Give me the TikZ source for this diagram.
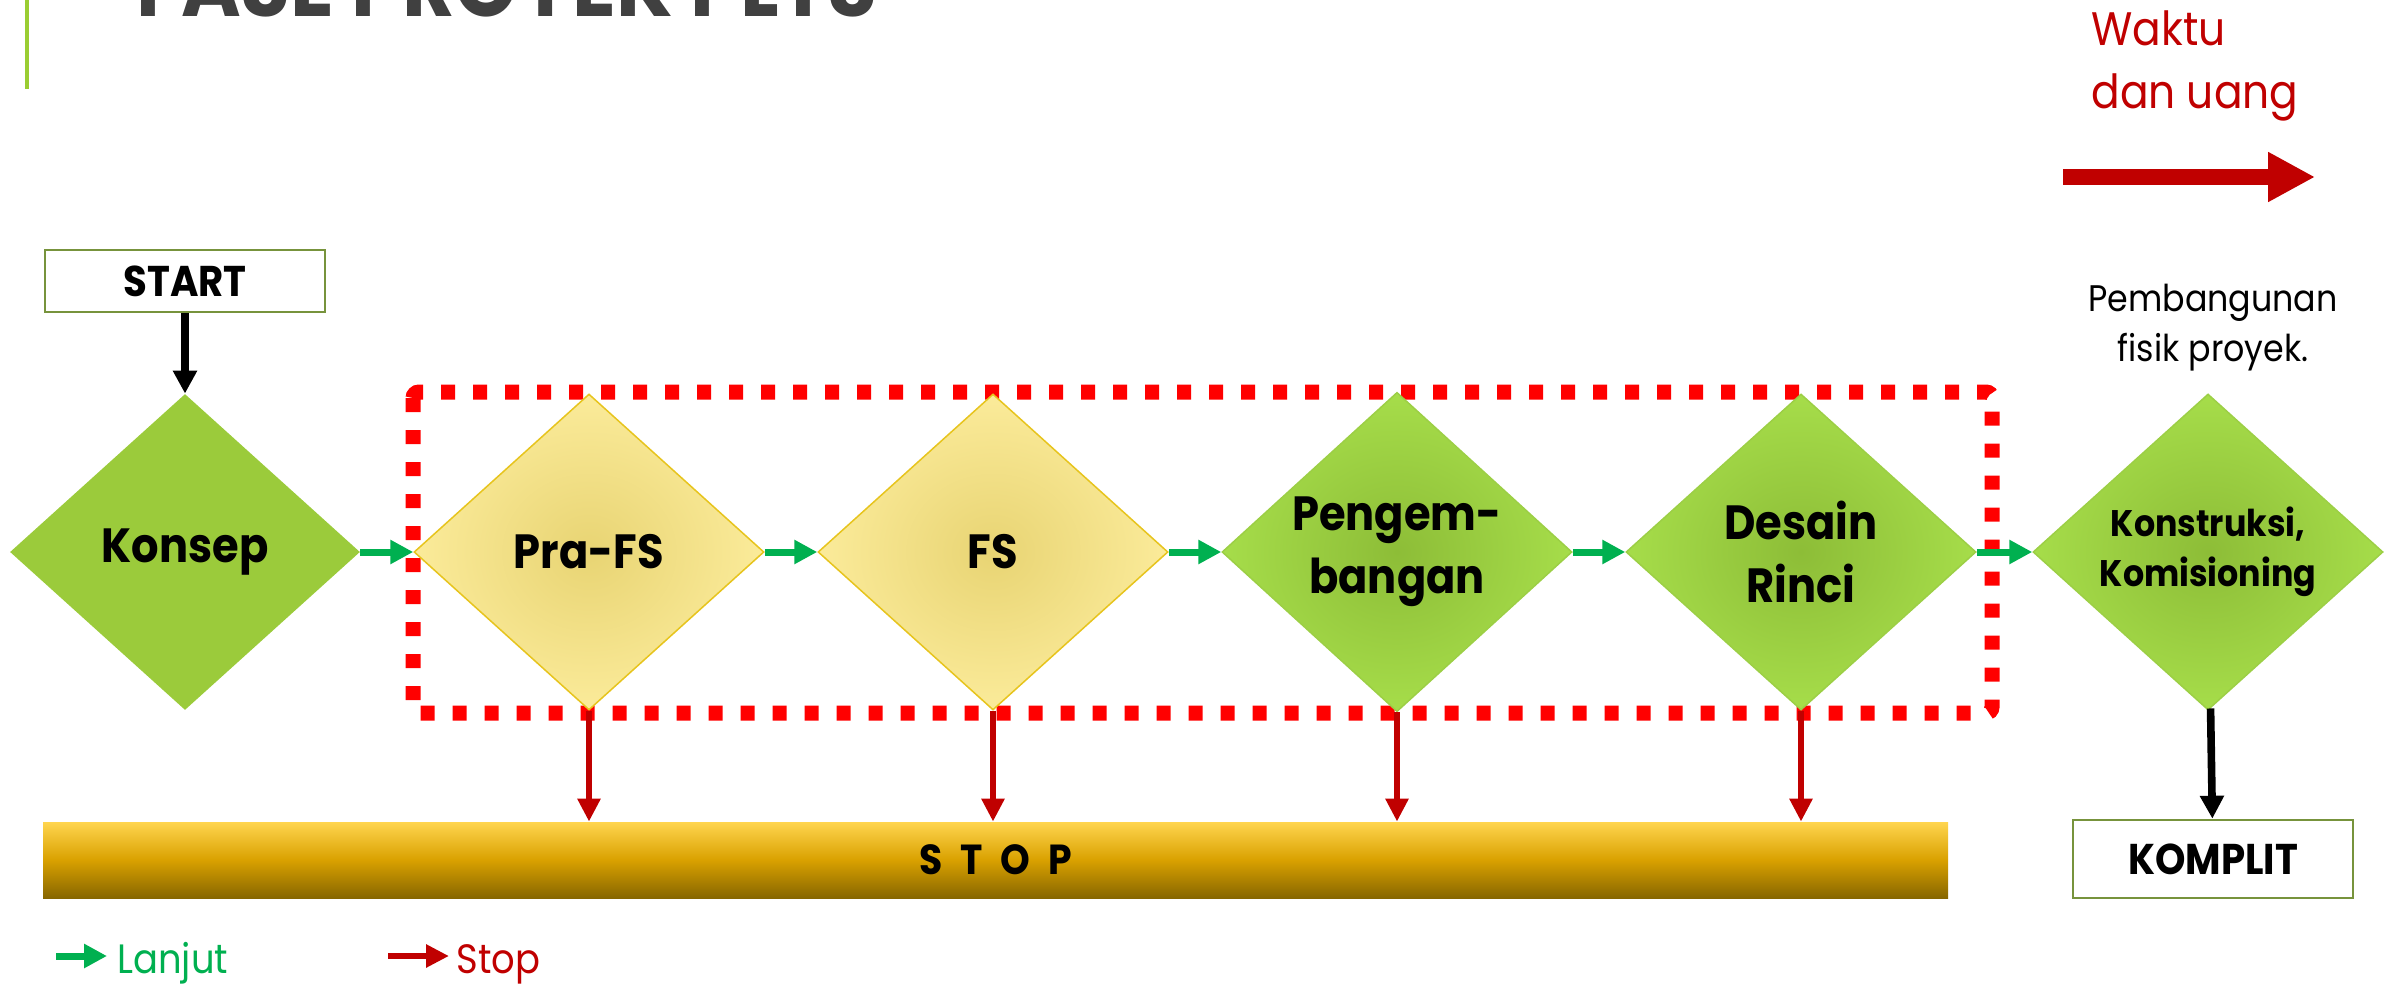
\documentclass[tikz,border=0pt]{standalone}
\usepackage{fontspec}
\setmainfont{Poppins}[FakeStretch=0.9]
\usetikzlibrary{shapes.geometric,arrows.meta}

\definecolor{titlegray}{HTML}{404040}
\definecolor{accentgreen}{HTML}{9ACD32}
\definecolor{konsepfill}{HTML}{9BCB3B}
\definecolor{leafin}{HTML}{8DBD37}
\definecolor{leafout}{HTML}{A6DD4A}
\definecolor{leafline}{HTML}{9CCF45}
\definecolor{sandin}{HTML}{E8D473}
\definecolor{sandout}{HTML}{FBEB9A}
\definecolor{sandline}{HTML}{E7C41D}
\definecolor{gogreen}{HTML}{00B050}
\definecolor{stopred}{HTML}{C00000}
\definecolor{dashred}{HTML}{FF0000}
\definecolor{boxolive}{HTML}{77933C}
\definecolor{bartop}{HTML}{FFD54F}
\definecolor{barmid}{HTML}{D9A100}
\definecolor{barbottom}{HTML}{876600}

\begin{document}
\begin{tikzpicture}[x=0.5pt,y=0.5pt,yscale=-1,xscale=1,
  phase/.style={diamond,inner sep=0pt,minimum width=175pt,minimum height=158pt,align=center,
    font=\bfseries\fontsize{24}{31.5}\selectfont},
  leafphase/.style={phase,draw=leafline,line width=0.75pt,inner color=leafin,outer color=leafout},
  sandphase/.style={phase,draw=sandline,line width=0.75pt,inner color=sandin,outer color=sandout},
  endbox/.style={draw=boxolive,line width=1.3pt,fill=white,minimum width=140pt,inner sep=0pt,
    font=\bfseries\fontsize{21.5}{26}\selectfont},
  goarrow/.style={draw=gogreen,line width=3.5pt,-{Triangle[length=11.5pt,width=11.5pt]}},
  stoparrow/.style={draw=stopred,line width=3pt,-{Triangle[length=11.5pt,width=11pt]}},
  flowarrow/.style={draw=black,line width=3.8pt,-{Triangle[length=11.5pt,width=11.5pt]}}]
\useasboundingbox (0,0) rectangle (2387,984);

%Straight Lines: title bar
\draw [color=accentgreen,line width=2.25pt] (27,0) -- (27,89) ;
% Text Node: title
\node [anchor=base,inner sep=0pt,text=titlegray,font=\bfseries\fontsize{45}{50}\selectfont] (title) at (507,17) {FASE PROYEK PLTS};

%Shape: Rectangle (dotted frame)
\draw [draw=dashred,line width=7.5pt,dash pattern=on 7pt off 9pt,rounded corners=3pt] (413,392) rectangle (1992,713) ;

%Shape: Diamonds
\node [phase,fill=konsepfill] (konsep) at (185,552) {Konsep};
\node [sandphase] (prafs) at (589,552) {Pra-FS};
\node [sandphase] (fs) at (993,552) {FS};
\node [leafphase] (kembang) at (1397,552) {Pengem-\\bangan};
\node [leafphase] (desain) at (1801,552) {Desain\\Rinci};
\node [leafphase,font=\bfseries\fontsize{18.5}{25}\selectfont] (konstruksi) at (2208,552) {Konstruksi,\\Komisioning};

%Shape: Boxes
\node [endbox,minimum height=31pt] (start) at (185,281) {START};
\node [endbox,minimum height=39pt] (komplit) at (2213,859) {KOMPLIT};
\node [minimum width=952.5pt,minimum height=38pt,inner sep=0pt,top color=bartop,bottom color=barbottom,middle color=barmid,
  font=\bfseries\fontsize{21}{24}\selectfont] (stop) at (995.5,860) {S\hspace{9pt}T\hspace{9pt}O\hspace{9pt}P};

%Straight Lines: flow
\draw [flowarrow] (start) -- (konsep) ;
\draw [flowarrow] (konstruksi) -- (komplit) ;
\draw [goarrow] (konsep) -- (prafs) ;
\draw [goarrow] (prafs) -- (fs) ;
\draw [goarrow] (fs) -- (kembang) ;
\draw [goarrow] (kembang) -- (desain) ;
\draw [goarrow] (desain) -- (konstruksi) ;
\foreach \p in {prafs,fs,kembang,desain}
  \draw [stoparrow] (\p.south) -- (\p.south |- stop.north) ;

% Text Node: time and money
\node [anchor=north west,inner sep=0pt,align=left,text=stopred,font=\fontsize{23.5}{31.5}\selectfont] (waktu) at (2091,10) {Waktu\\dan uang};
\coordinate (wtail) at (2063,177);
\coordinate (whead) at (2315,177);
\draw [draw=stopred,line width=8pt,-{Triangle[length=23.5pt,width=23.5pt]}] (wtail) -- (whead) ;
% Text Node
\node [inner sep=0pt,align=center,font=\fontsize{18.5}{25}\selectfont] (fisik) at (2213,328) {Pembangunan\\fisik proyek.};

% Legend
\coordinate (lgo1) at (56,956);
\coordinate (lgo2) at (107,956);
\draw [goarrow] (lgo1) -- (lgo2) ;
\node [anchor=base west,inner sep=0pt,text=gogreen,font=\fontsize{20.5}{24}\selectfont] (lanjut) at (117,973) {Lanjut};
\coordinate (lstop1) at (388,956);
\coordinate (lstop2) at (449,956);
\draw [stoparrow] (lstop1) -- (lstop2) ;
\node [anchor=base west,inner sep=0pt,text=stopred,font=\fontsize{20.5}{24}\selectfont] (stoplabel) at (456,973) {Stop};

\end{tikzpicture}
\end{document}
